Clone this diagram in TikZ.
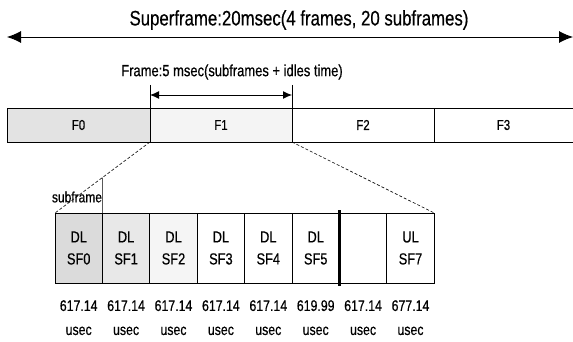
\documentclass[tikz,border=0pt]{standalone}
\usepackage{fontspec}
\setmainfont{Liberation Sans}[FakeStretch=0.8, FakeBold=0.5]
\usepackage{tikz}
\usetikzlibrary{positioning,arrows.meta,calc}

\begin{document}
\begin{tikzpicture}[x=1pt, y=-1pt, node distance=0pt,
  frm/.style={draw, line width=0.8pt, minimum width=142pt, minimum height=34pt,
    inner sep=0pt, outer sep=0pt, font=\fontsize{14.3}{16}\selectfont},
  sfbox/.style={draw, line width=0.7pt, minimum width=47.4pt, minimum height=70pt,
    inner sep=0pt, outer sep=0pt, align=center, font=\fontsize{16}{22}\selectfont},
  tm/.style={align=center, inner sep=0pt, font=\fontsize{15.4}{24}\selectfont},
  zoomln/.style={dash pattern=on 3pt off 2pt, line width=0.6pt},
  arr/.style={{Latex[length=14pt,width=12pt]}-{Latex[length=14pt,width=12pt]}, line width=0.9pt},
  arrs/.style={{Latex[length=9pt,width=8pt]}-{Latex[length=9pt,width=8pt]}, line width=0.9pt}]
\useasboundingbox (0,0) rectangle (573,342);
% superframe
\node[font=\fontsize{21}{24}\selectfont] (sup) at (299,20) {Superframe:20msec(4 frames, 20 subframes)};
\coordinate (s1) at (7,37); \coordinate (s2) at (573,37);
\draw[arr] (s1) -- (s2);
% frames
\node[frm, minimum width=143pt, fill=gray!22] (f0) at (78.5,125) {F0};
\node[frm, fill=gray!9, right=of f0] (f1) {F1};
\node[frm, right=of f1] (f2) {F2};
\node[frm, draw=none, minimum width=139pt, right=of f2] (f3) {F3};
\draw[line width=0.8pt] (f2.north east) -- (f3.north east);
\draw[line width=0.8pt] (f2.south east) -- (f3.south east);
\node[font=\fontsize{16.2}{18}\selectfont] (frame) at (232,72) {Frame:5 msec(subframes + idles time)};
\coordinate (v1) at (150,85); \coordinate (v2) at (292,85);
\coordinate (a1) at (150,95); \coordinate (a2) at (292,95);
\draw[line width=0.6pt] (v1) -- (f1.north west);
\draw[line width=0.6pt] (v2) -- (f1.north east);
\draw[arrs] (a1) -- (a2);
% subframes
\node[sfbox, fill=gray!28] (sf0) at (78.7,248) {DL\\SF0};
\node[sfbox, fill=gray!18, right=of sf0] (sf1) {DL\\SF1};
\node[sfbox, fill=gray!8, right=of sf1] (sf2) {DL\\SF2};
\node[sfbox, right=of sf2] (sf3) {DL\\SF3};
\node[sfbox, right=of sf3] (sf4) {DL\\SF4};
\node[sfbox, right=of sf4] (sf5) {DL\\SF5};
\node[sfbox, right=of sf5] (sf6) {};
\node[sfbox, right=of sf6] (sf7) {UL\\SF7};
\draw[line width=3pt, shorten <=-3pt, shorten >=-3pt] (sf5.north east) -- (sf5.south east);
\draw[zoomln] (f1.south west) -- (sf0.north west);
\draw[zoomln] (f1.south east) -- (sf7.north east);
\coordinate (cut) at (intersection of f1.south west--sf0.north west and sf0.north east--sf0.south east);
\draw[line width=0.6pt] (cut) -- (sf0.north east);
\node[font=\fontsize{15}{16}\selectfont, inner sep=0pt] (sub) at (77,197) {subframe};
% durations
\node[tm, below=17pt of sf0] (t0) {617.14\\usec};
\node[tm, below=17pt of sf1] (t1) {617.14\\usec};
\node[tm, below=17pt of sf2] (t2) {617.14\\usec};
\node[tm, below=17pt of sf3] (t3) {617.14\\usec};
\node[tm, below=17pt of sf4] (t4) {617.14\\usec};
\node[tm, below=17pt of sf5] (t5) {619.99\\usec};
\node[tm, below=17pt of sf6] (t6) {617.14\\usec};
\node[tm, below=17pt of sf7] (t7) {677.14\\usec};
\end{tikzpicture}
\end{document}
